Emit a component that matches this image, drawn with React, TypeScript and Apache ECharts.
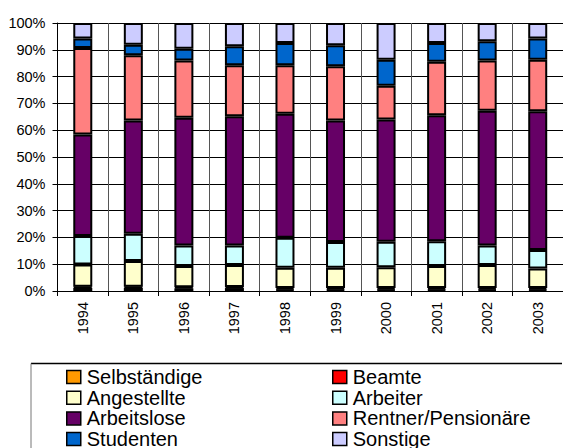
import React, { useEffect, useRef } from "react";
import * as echarts from "echarts";

const years = ["1994", "1995", "1996", "1997", "1998", "1999", "2000", "2001", "2002", "2003"];
const yTicks = [0, 10, 20, 30, 40, 50, 60, 70, 80, 90, 100];

const selbstaendige = [1.2, 1.2, 1.0, 1.1, 0.5, 0.5, 0.5, 0.5, 0.5, 0.5];
const beamte = [0.4, 0.4, 0.4, 0.4, 0.6, 0.6, 0.6, 0.6, 0.6, 0.6];
const angestellte = [8.3, 9.6, 7.9, 8.2, 7.6, 7.6, 7.8, 8.2, 8.6, 7.3];
const arbeiter = [10.6, 10.2, 7.7, 7.3, 11.2, 9.6, 9.5, 9.3, 7.3, 6.9];
const arbeitslose = [37.9, 42.2, 47.6, 48.2, 46.2, 45.3, 45.6, 47.0, 50.3, 51.8];
const rentner = [32.3, 24.4, 21.4, 19.0, 18.1, 20.3, 12.6, 19.9, 18.7, 19.2];
const studenten = [3.5, 3.9, 4.4, 7.1, 8.3, 7.8, 9.7, 7.0, 7.2, 7.9];
const sonstige = [5.8, 8.1, 9.6, 8.7, 7.5, 8.3, 13.7, 7.5, 6.8, 5.8];

const seriesDefs = [
  { name: "Selbständige", data: selbstaendige, color: "#FF9900" },
  { name: "Beamte", data: beamte, color: "#FF0000" },
  { name: "Angestellte", data: angestellte, color: "#FFFFCC" },
  { name: "Arbeiter", data: arbeiter, color: "#CCFFFF" },
  { name: "Arbeitslose", data: arbeitslose, color: "#660066" },
  { name: "Rentner/Pensionäre", data: rentner, color: "#FF8080" },
  { name: "Studenten", data: studenten, color: "#0066CC" },
  { name: "Sonstige", data: sonstige, color: "#CCCCFF" },
];

const FONT = "'Liberation Sans', Arial, sans-serif";

export default function App() {
  const ref = useRef<HTMLDivElement>(null);
  useEffect(() => {
    if (!ref.current) return;
    const chart = echarts.init(ref.current, undefined, { renderer: "svg" });
    const legendCommon = {
      orient: "vertical" as const,
      itemWidth: 14,
      itemHeight: 13,
      itemGap: 0.7,
      padding: 0,
      height: 200,
      width: 230,
      icon: "rect",
      selectedMode: false,
      itemStyle: { borderColor: "#000", borderWidth: 1.5 },
      textStyle: { fontFamily: FONT, fontSize: 20, color: "#000", lineHeight: 20, padding: [0, 0, 0, 1] },
    };
    chart.setOption({
      animation: false,
      backgroundColor: "#fff",
      textStyle: { fontFamily: FONT },
      grid: { left: 57.5, top: 23, width: 507, height: 268, containLabel: false },
      xAxis: {
        type: "category",
        data: years,
        boundaryGap: true,
        axisLine: { show: true, lineStyle: { color: "#000", width: 1 } },
        axisTick: { show: true, length: 5, lineStyle: { color: "#000" } },
        axisLabel: { rotate: 90, fontSize: 14.5, color: "#000", margin: 11, fontFamily: FONT },
        splitLine: { show: true, lineStyle: { color: "#555", width: 1 } },
      },
      yAxis: {
        type: "value",
        min: yTicks[0],
        max: yTicks[yTicks.length - 1],
        interval: 10,
        axisLine: { show: true, lineStyle: { color: "#000", width: 1 } },
        axisTick: { show: true, length: 5, lineStyle: { color: "#000" } },
        axisLabel: { formatter: "{value}%", fontSize: 14.5, color: "#000", margin: 12, fontFamily: FONT },
        splitLine: { show: true, lineStyle: { color: "#000", width: 1 } },
      },
      legend: [
        {
          ...legendCommon,
          left: 66,
          top: 367,
          data: ["Selbständige", "Angestellte", "Arbeitslose", "Studenten"],
        },
        {
          ...legendCommon,
          left: 332,
          top: 367,
          data: ["Beamte", "Arbeiter", "Rentner/Pensionäre", "Sonstige"],
        },
      ],
      graphic: [
        { type: "line", shape: { x1: 31, y1: 363.5, x2: 562, y2: 363.5 }, style: { stroke: "#000", lineWidth: 1.5 } },
        { type: "line", shape: { x1: 31, y1: 363.5, x2: 31, y2: 448 }, style: { stroke: "#777", lineWidth: 1 } },
      ],
      series: seriesDefs.map((s) => ({
        name: s.name,
        type: "bar",
        stack: "total",
        data: s.data,
        barWidth: 19,
        itemStyle: { color: s.color, borderColor: "#000", borderWidth: 2 },
      })),
    });
    return () => chart.dispose();
  }, []);
  return (
    <div
      ref={ref}
      style={{ position: "fixed", left: 0, top: 0, width: 563, height: 448, background: "#fff" }}
    />
  );
}
